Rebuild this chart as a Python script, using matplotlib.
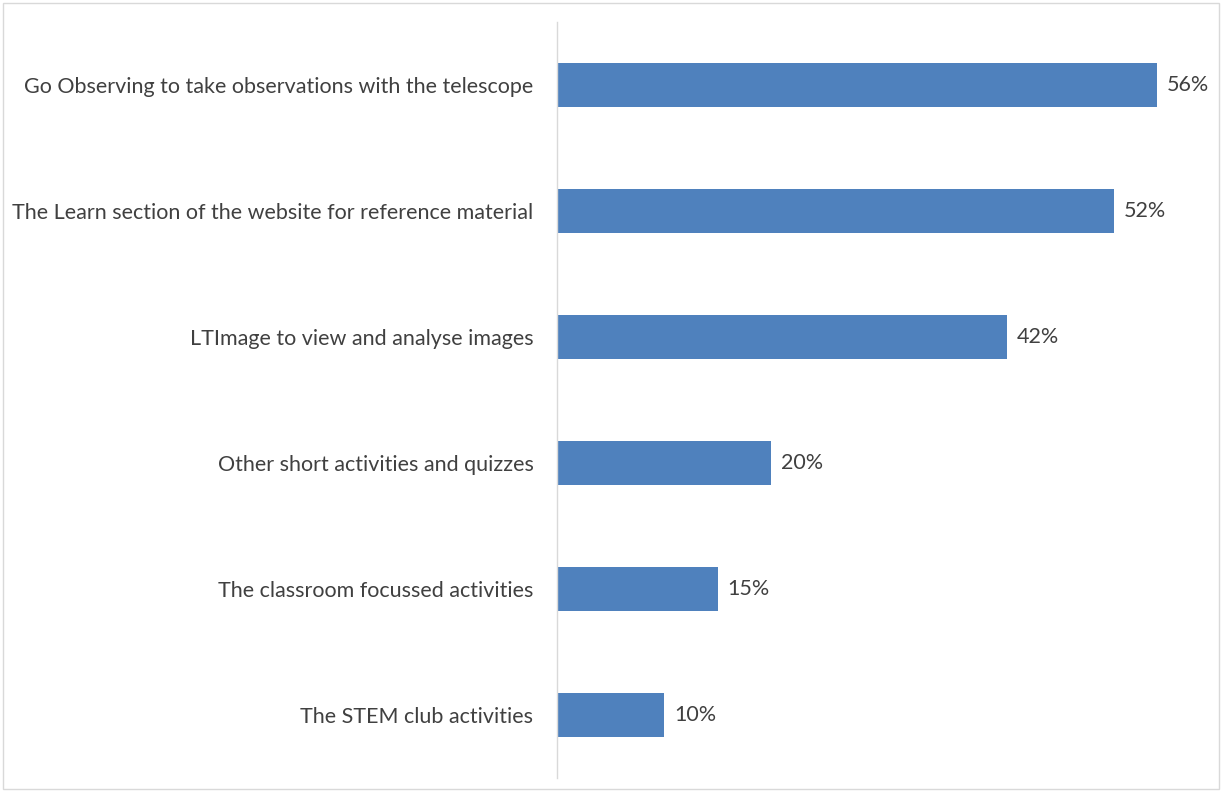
import matplotlib.pyplot as plt
from matplotlib.patches import Rectangle

categories = [
    "Go Observing to take observations with the telescope",
    "The Learn section of the website for reference material",
    "LTImage to view and analyse images",
    "Other short activities and quizzes",
    "The classroom focussed activities",
    "The STEM club activities",
]
values = [56, 52, 42, 20, 15, 10]

bar_color = "#4F81BD"
text_color = "#404040"
font = "Lato"

fig = plt.figure(figsize=(12.22, 7.92), dpi=100)
ax = fig.add_axes([557 / 1222, 1 - 778 / 792, (1200 - 557) / 1222, (778 - 22) / 792])

y = list(range(len(categories)))
ax.barh(y, values, height=0.345, color=bar_color, zorder=2)
ax.set_ylim(len(categories) - 0.5, -0.5)
ax.set_xlim(0, 60)

ax.set_yticks(y)
ax.set_yticklabels(categories, fontsize=15.5, color=text_color, family=font)
ax.tick_params(axis="y", length=0, pad=17)
ax.set_xticks([])

for s in ["top", "right", "bottom"]:
    ax.spines[s].set_visible(False)
ax.spines["left"].set_color("#D9D9D9")
ax.spines["left"].set_linewidth(1.0)

for yi, v in zip(y, values):
    ax.annotate(f"{v}%", (v, yi), xytext=(7, 0), textcoords="offset points",
                va="center", ha="left", fontsize=15.5, color=text_color, family=font)

fig.patches.append(Rectangle((3 / 1222, 3 / 792), 1 - 6 / 1222, 1 - 6 / 792,
                             transform=fig.transFigure, fill=False,
                             edgecolor="#D9D9D9", linewidth=1.0))

fig.savefig("out.png", dpi=100)
